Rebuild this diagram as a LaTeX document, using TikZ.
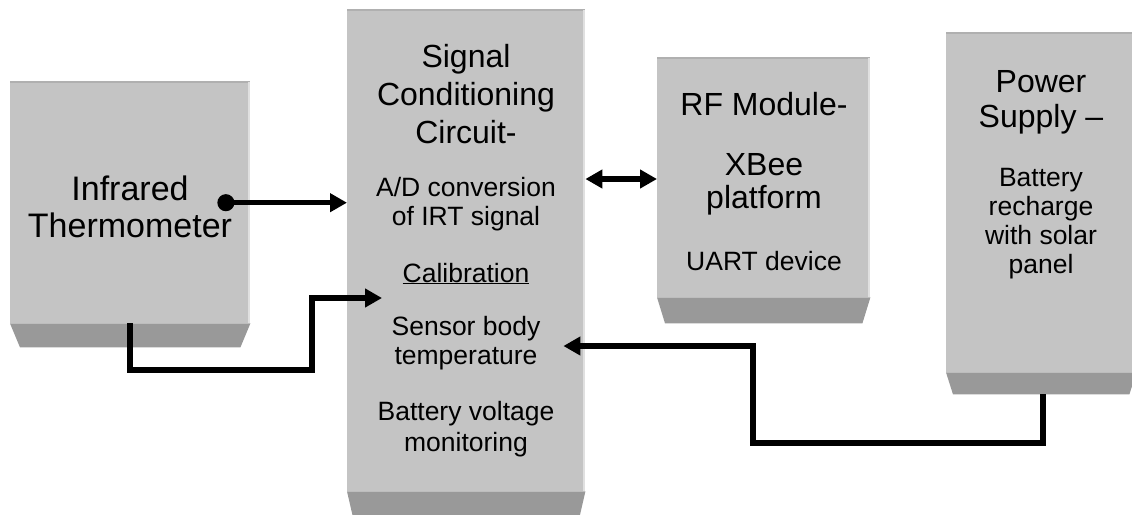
\documentclass[tikz,border=0pt]{standalone}
\usepackage{fontspec}
\setmainfont{Liberation Sans}
\usetikzlibrary{positioning, arrows.meta}
\definecolor{boxface}{RGB}{196,196,196}
\definecolor{boxbase}{RGB}{153,153,153}
\definecolor{boxrim}{RGB}{176,176,176}
\definecolor{boxedge}{RGB}{224,224,224}

\begin{document}
\begin{tikzpicture}[x=1pt, y=-1pt,
    every node/.style={inner sep=0pt},
    face/.style={rectangle, fill=boxface, anchor=north west},
    big/.style={font=\fontsize{32}{38}\selectfont, align=center, anchor=base},
    small/.style={font=\fontsize{26.5}{29}\selectfont, align=center, anchor=base},
    wire/.style={line width=5.5pt, -{Triangle[length=17pt, width=18pt]}},
    dotwire/.style={line width=5.5pt, {Circle[length=17pt]}-{Triangle[length=17pt, width=18pt]}},
    bothwire/.style={line width=5.5pt, {Triangle[length=17pt, width=18pt]}-{Triangle[length=17pt, width=18pt]}}
  ]
  \useasboundingbox (0,0) rectangle (1132,514);

  % Box faces
  \node[face, minimum width=240pt, minimum height=241pt] (irt) at (10,82) {};
  \node[face, minimum width=238pt, minimum height=481pt] (scc) at (347,10) {};
  \node[face, minimum width=213pt, minimum height=239pt] (rf) at (657,58) {};
  \node[face, minimum width=190pt, minimum height=339pt] (ps) at (946,33) {};

  % Bevelled bottoms and rims
  \foreach \b/\i/\d in {irt/10/24, scc/6/26, rf/8/26, ps/7/22} {
    \fill[boxbase] (\b.south west) -- (\b.south east)
      -- ([xshift=-\i pt, yshift=-\d pt]\b.south east)
      -- ([xshift=\i pt, yshift=-\d pt]\b.south west) -- cycle;
    \draw[boxrim, line width=2pt] (\b.north west) -- (\b.north east);
    \draw[boxedge, line width=2pt] ([xshift=-1pt]\b.north east) -- ([xshift=-1pt]\b.south east);
  }

  % Texts (placed at the baseline of their last line)
  \node[big, font=\fontsize{34}{37}\selectfont] (irt-name) at (130,237) {Infrared\\Thermometer};

  \node[big] (scc-name) at (466,143) {Signal\\Conditioning\\Circuit-};
  \node[small] (scc-ad) at (466,225) {A/D conversion\\of IRT signal};
  \node[small] (scc-cal) at (466,282) {\underline{Calibration}};
  \node[small] (scc-temp) at (466,364) {Sensor body\\temperature};
  \node[small, font=\fontsize{26.5}{31}\selectfont] (scc-batt) at (466,451) {Battery voltage\\monitoring};

  \node[big] (rf-name) at (764,115) {RF Module-};
  \node[big, font=\fontsize{32}{33}\selectfont] (rf-xbee) at (764,208) {XBee\\platform};
  \node[small] (rf-uart) at (764,270) {UART device};

  \node[big, font=\fontsize{32}{35}\selectfont] (ps-name) at (1041,127) {Power\\Supply --};
  \node[small] (ps-batt) at (1041,273) {Battery\\recharge\\with solar\\panel};

  % Arrows
  \draw[dotwire] ([xshift=-33pt]irt.east) -- (scc.west |- irt.east);
  \draw[wire] (irt.south) |- (312,370) |- ([xshift=35pt]scc.west |- 0,298);
  \draw[bothwire] (scc.east |- 0,179) -- (rf.west |- 0,179);
  \draw[wire] ([xshift=2pt, yshift=-22pt]ps.south) |- (753,443) |- ([xshift=-22pt]scc.east |- 0,346);

\end{tikzpicture}
\end{document}
